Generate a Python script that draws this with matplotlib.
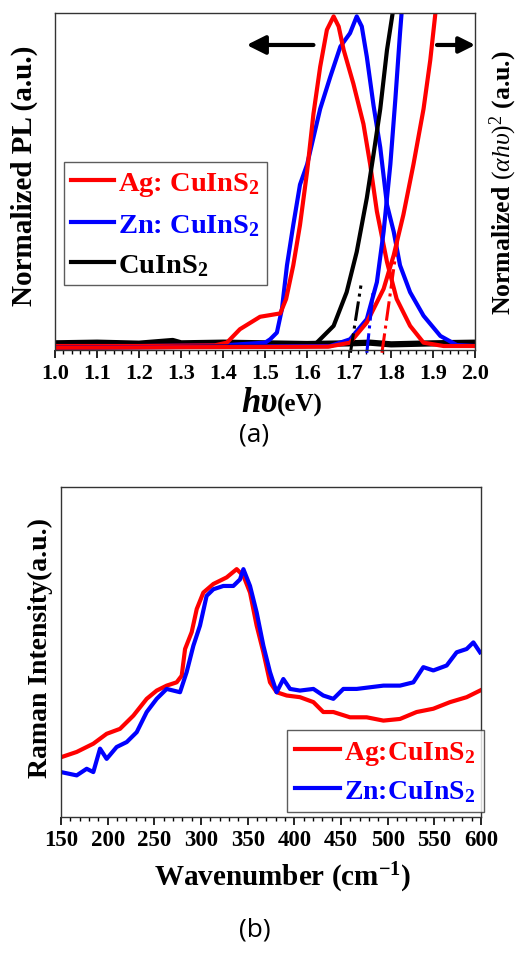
import matplotlib
matplotlib.use("Agg")
import matplotlib.pyplot as plt
from matplotlib.ticker import MultipleLocator

plt.rcParams['font.family'] = ['Liberation Serif', 'DejaVu Serif']
plt.rcParams['font.weight'] = 'bold'
plt.rcParams['axes.labelweight'] = 'bold'
plt.rcParams['mathtext.fontset'] = 'custom'
plt.rcParams['mathtext.rm'] = 'Liberation Serif:weight=normal'
plt.rcParams['mathtext.it'] = 'Liberation Serif:style=italic:weight=normal'
plt.rcParams['mathtext.bf'] = 'Liberation Serif:weight=bold'

# ---- (a) PL and absorption data ----
ag_pl_x = [1.0, 1.2, 1.38, 1.409, 1.44, 1.488, 1.536, 1.55, 1.567, 1.583, 1.6, 1.615, 1.631,
           1.647, 1.663, 1.675, 1.687, 1.71, 1.734, 1.75, 1.766, 1.79, 1.813, 1.845, 1.877,
           1.925, 2.0]
ag_pl_y = [0.01, 0.01, 0.012, 0.02, 0.06, 0.097, 0.107, 0.15, 0.25, 0.37, 0.53, 0.70, 0.84,
           0.95, 0.99, 0.96, 0.89, 0.79, 0.67, 0.55, 0.41, 0.26, 0.15, 0.07, 0.02, 0.01, 0.01]

zn_pl_x = [1.0, 1.2, 1.4, 1.5, 1.512, 1.528, 1.54, 1.552, 1.567, 1.583, 1.6, 1.615, 1.631,
           1.655, 1.679, 1.702, 1.718, 1.73, 1.742, 1.758, 1.774, 1.79, 1.806, 1.821, 1.845,
           1.877, 1.917, 1.956, 2.0]
zn_pl_y = [0.01, 0.01, 0.012, 0.02, 0.03, 0.05, 0.12, 0.25, 0.37, 0.49, 0.55, 0.63, 0.715,
           0.81, 0.90, 0.94, 0.99, 0.96, 0.87, 0.725, 0.60, 0.43, 0.35, 0.25, 0.17,
           0.10, 0.04, 0.013, 0.01]

cis_pl_x = [1.0, 1.1, 1.2, 1.28, 1.3, 1.4, 1.5, 1.6, 1.7, 1.75, 1.8, 1.9, 2.0]
cis_pl_y = [0.018, 0.02, 0.017, 0.025, 0.018, 0.02, 0.018, 0.016, 0.018, 0.02, 0.015, 0.018, 0.02]

cis_abs_x = [1.0, 1.6, 1.623, 1.663, 1.694, 1.718, 1.742, 1.758, 1.774, 1.79, 1.806]
cis_abs_y = [0.005, 0.01, 0.02, 0.07, 0.17, 0.29, 0.45, 0.58, 0.715, 0.89, 1.02]

zn_abs_x = [1.0, 1.655, 1.702, 1.742, 1.766, 1.782, 1.798, 1.81, 1.821, 1.826]
zn_abs_y = [0.005, 0.01, 0.03, 0.09, 0.20, 0.35, 0.55, 0.745, 0.94, 1.02]

ag_abs_x = [1.0, 1.65, 1.702, 1.742, 1.782, 1.806, 1.829, 1.853, 1.877, 1.893, 1.907]
ag_abs_y = [0.005, 0.008, 0.02, 0.08, 0.18, 0.28, 0.40, 0.55, 0.715, 0.86, 1.02]

# band-gap extrapolation lines
cis_fit_x = [1.703, 1.728]
cis_fit_y = [-0.01, 0.19]
zn_fit_x = [1.742, 1.757]
zn_fit_y = [-0.01, 0.17]
ag_fit_x = [1.778, 1.815]
ag_fit_y = [-0.01, 0.32]

# ---- (b) Raman data ----
ag_raman_x = [150, 166.8, 184.6, 198.9, 213.2, 227.5, 241.8, 252.5, 263.2, 273.9, 279.3, 282.9,
              290, 295.4, 302.5, 313.2, 327.5, 338.2, 345.4, 352.5, 359.6, 366.8, 373.9, 381,
              391.8, 406, 420.4, 431, 441.8, 459.6, 477.5, 495.4, 513.2, 531, 548.9, 566.8,
              584.6, 598.9]
ag_raman_y = [0.181, 0.197, 0.222, 0.252, 0.267, 0.307, 0.358, 0.383, 0.398, 0.408, 0.428, 0.509,
              0.56, 0.63, 0.68, 0.706, 0.726, 0.751, 0.731, 0.68, 0.58, 0.499, 0.408, 0.378,
              0.368, 0.363, 0.348, 0.318, 0.318, 0.302, 0.302, 0.292, 0.297, 0.318, 0.328, 0.348,
              0.363, 0.383]

zn_raman_x = [150, 166.8, 177.5, 184.6, 191.8, 198.9, 209.6, 220.4, 231.1, 241.8, 252.5, 263.2,
              277.5, 284.6, 291.8, 298.9, 306, 313.2, 323.9, 334.6, 341.8, 345.4, 352.5, 359.6,
              366.8, 373.9, 381, 388.2, 395.4, 406, 420.4, 431, 441.8, 452.5, 466.8, 481.1,
              495.4, 513.2, 527.5, 538.2, 548.9, 563.2, 573.9, 584.6, 591.8, 598.9]
zn_raman_y = [0.136, 0.126, 0.146, 0.136, 0.207, 0.176, 0.212, 0.227, 0.257, 0.318, 0.358, 0.388,
              0.378, 0.439, 0.519, 0.58, 0.67, 0.69, 0.70, 0.70, 0.72, 0.751, 0.70, 0.62,
              0.519, 0.439, 0.378, 0.418, 0.388, 0.383, 0.388, 0.368, 0.358, 0.388, 0.388, 0.393,
              0.398, 0.398, 0.408, 0.454, 0.444, 0.459, 0.499, 0.509, 0.529, 0.499]

RED = "#ff0000"
BLUE = "#0000ff"
BLACK = "#000000"
LW = 3.0

fig = plt.figure(figsize=(5.22, 9.54), dpi=100)

# ================= panel (a) =================
ax = fig.add_axes([0.1054, 0.632, 0.805, 0.3533])
ax.plot(cis_pl_x, cis_pl_y, color=BLACK, lw=4.5)
ax.plot(zn_pl_x, zn_pl_y, color=BLUE, lw=LW)
ax.plot(ag_pl_x, ag_pl_y, color=RED, lw=LW)
ax.plot(cis_abs_x, cis_abs_y, color=BLACK, lw=LW)
ax.plot(zn_abs_x, zn_abs_y, color=BLUE, lw=LW)
ax.plot(ag_abs_x, ag_abs_y, color=RED, lw=LW)
ax.plot(cis_fit_x, cis_fit_y, color=BLACK, lw=2.2, ls='-.', clip_on=False)
ax.plot(zn_fit_x, zn_fit_y, color=BLUE, lw=2.2, ls='-.', clip_on=False)
ax.plot(ag_fit_x, ag_fit_y, color=RED, lw=2.2, ls='-.', clip_on=False)

ax.annotate("", xy=(1.456, 0.905), xytext=(1.615, 0.905),
            arrowprops=dict(arrowstyle='-|>', lw=3, color=BLACK, mutation_scale=28,
                            shrinkA=0, shrinkB=0))
ax.annotate("", xy=(2.0, 0.905), xytext=(1.909, 0.905),
            arrowprops=dict(arrowstyle='-|>', lw=3, color=BLACK, mutation_scale=24,
                            shrinkA=0, shrinkB=0))

ax.set_xlim(1.0, 2.0)
ax.set_ylim(-0.002, 1.0)
ax.xaxis.set_minor_locator(MultipleLocator(0.02))
ax.set_xticks([1.0 + 0.1 * i for i in range(11)])
ax.set_xticklabels([f"{1.0 + 0.1 * i:.1f}" for i in range(11)])
ax.set_yticks([])
ax.tick_params(axis='x', which='major', direction='out', length=6, width=1.2,
               labelsize=16, pad=3)
ax.tick_params(axis='x', which='minor', direction='out', length=3, width=1.0)
for s in ax.spines.values():
    s.set_linewidth(1.0)
    s.set_color('#333333')

ax.set_ylabel("Normalized PL (a.u.)", fontsize=21)
ax.yaxis.set_label_coords(-0.04, 0.52)
ax.text(1.068, 0.50, r"Normalized $\mathit{(\alpha h\upsilon)^2}$ (a.u.)", fontsize=18.5,
        fontweight='bold', rotation=90, ha='center', va='center', transform=ax.transAxes)
ax.text(0.529, -0.181, "hυ", fontsize=25, style='italic', ha='right', va='baseline',
        transform=ax.transAxes)
ax.text(0.529, -0.181, "(eV)", fontsize=18, ha='left', va='baseline',
        transform=ax.transAxes)

h1, = ax.plot([], [], color=RED, lw=3, label=r"Ag: CuInS$_\mathbf{2}$")
h2, = ax.plot([], [], color=BLUE, lw=3, label=r"Zn: CuInS$_\mathbf{2}$")
h3, = ax.plot([], [], color=BLACK, lw=3, label=r"CuInS$_\mathbf{2}$")
leg = ax.legend(handles=[h1, h2, h3], loc='lower left', bbox_to_anchor=(0.021, 0.193),
                fontsize=20.5, labelcolor='linecolor', frameon=True, fancybox=False,
                edgecolor='#333333', handlelength=1.5, handletextpad=0.15,
                labelspacing=0.5, borderpad=0.25, borderaxespad=0)
leg.get_frame().set_linewidth(1.0)

fig.text(254 / 522, 1 - 435 / 954, "(a)", fontsize=19, family='Open Sans',
         weight='normal', ha='center', va='center')

# ================= panel (b) =================
bx = fig.add_axes([0.1169, 0.1426, 0.8046, 0.3459])
bx.plot(ag_raman_x, ag_raman_y, color=RED, lw=LW, label=r"Ag:CuInS$_\mathbf{2}$")
bx.plot(zn_raman_x, zn_raman_y, color=BLUE, lw=LW, label=r"Zn:CuInS$_\mathbf{2}$")
bx.set_xlim(150, 600)
bx.set_ylim(0, 1)
bx.xaxis.set_major_locator(MultipleLocator(50))
bx.xaxis.set_minor_locator(MultipleLocator(10))
bx.set_yticks([])
bx.tick_params(axis='x', which='major', direction='out', length=6, width=1.2,
               labelsize=16.5, pad=3)
bx.tick_params(axis='x', which='minor', direction='out', length=3, width=1.0)
for s in bx.spines.values():
    s.set_linewidth(1.0)
    s.set_color('#333333')

bx.set_ylabel("Raman Intensity(a.u.)", fontsize=20)
bx.yaxis.set_label_coords(-0.02, 0.515)
bx.set_xlabel(r"Wavenumber (cm$^{\mathbf{-1}}$)", fontsize=21)
bx.xaxis.set_label_coords(0.527, -0.13)

leg2 = bx.legend(loc='lower left', bbox_to_anchor=(0.538, 0.015), fontsize=20,
                 labelcolor='linecolor', frameon=True, fancybox=False, edgecolor='#333333',
                 handlelength=1.6, handletextpad=0.15, labelspacing=0.4, borderpad=0.3,
                 borderaxespad=0)
leg2.get_frame().set_linewidth(1.0)
for line in leg2.get_lines():
    line.set_linewidth(3)

fig.text(255 / 522, 1 - 930 / 954, "(b)", fontsize=19, family='Open Sans',
         weight='normal', ha='center', va='center')

fig.savefig("out.png", dpi=100)
